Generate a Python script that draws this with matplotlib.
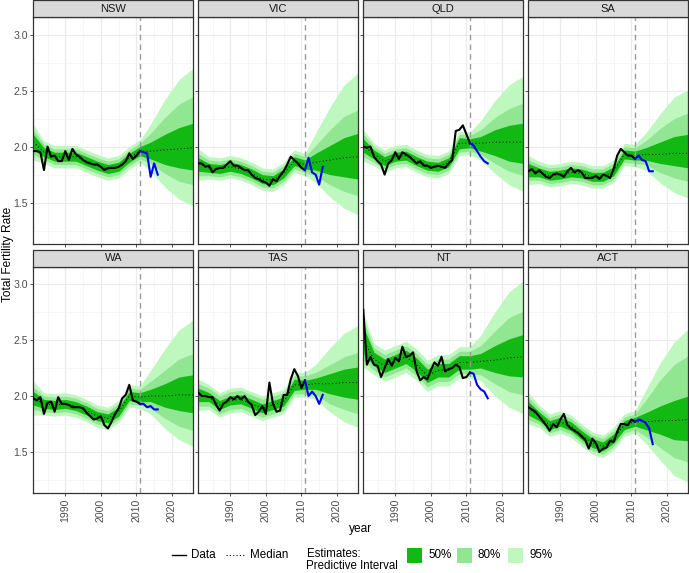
import matplotlib
matplotlib.use("Agg")
import matplotlib.pyplot as plt
from matplotlib.patches import Rectangle
from matplotlib.lines import Line2D

plt.rcParams['font.family'] = ['Liberation Sans', 'DejaVu Sans']

# ---------------- data ----------------
states = ["NSW", "VIC", "QLD", "SA", "WA", "TAS", "NT", "ACT"]
data_years = list(range(1981, 2012))
obs_years = list(range(2011, 2017))
key_years = [1981, 1984, 1987, 1990, 1993, 1996, 1999, 2002, 2005, 2008, 2011, 2014, 2018, 2022, 2026]

# observed TFR (black)
nsw_tfr = [1.96, 1.96, 1.95, 1.79, 2.00, 1.91, 1.92, 1.87, 1.87, 1.96,
           1.88, 1.98, 1.93, 1.91, 1.88, 1.86, 1.85, 1.84, 1.84, 1.82,
           1.79, 1.81, 1.81, 1.81, 1.82, 1.84, 1.87, 1.94, 1.89, 1.92, 1.96]
vic_tfr = [1.85, 1.85, 1.82, 1.83, 1.77, 1.80, 1.81, 1.81, 1.84, 1.87,
           1.83, 1.83, 1.81, 1.79, 1.79, 1.75, 1.72, 1.71, 1.69, 1.68,
           1.65, 1.71, 1.69, 1.74, 1.78, 1.84, 1.91, 1.88, 1.85, 1.81, 1.79]
qld_tfr = [2.00, 1.99, 2.00, 1.91, 1.87, 1.84, 1.75, 1.85, 1.88, 1.95,
           1.89, 1.95, 1.93, 1.91, 1.88, 1.85, 1.87, 1.83, 1.83, 1.81,
           1.82, 1.83, 1.82, 1.81, 1.85, 1.88, 2.14, 2.15, 2.19, 2.11, 2.03]
sa_tfr = [1.78, 1.80, 1.76, 1.79, 1.76, 1.73, 1.72, 1.75, 1.76, 1.75,
          1.73, 1.78, 1.81, 1.77, 1.79, 1.77, 1.72, 1.72, 1.72, 1.74,
          1.71, 1.75, 1.74, 1.72, 1.80, 1.92, 1.98, 1.95, 1.92, 1.92, 1.89]
wa_tfr = [1.98, 1.96, 1.99, 1.84, 1.94, 1.95, 1.86, 1.99, 1.93, 1.93,
          1.92, 1.90, 1.90, 1.90, 1.89, 1.85, 1.82, 1.79, 1.80, 1.82,
          1.74, 1.71, 1.77, 1.84, 1.89, 1.98, 2.01, 2.10, 1.96, 1.95, 1.93]
tas_tfr = [2.03, 2.00, 2.00, 1.99, 1.99, 1.92, 1.87, 1.93, 1.95, 1.99,
           1.97, 2.00, 1.97, 2.00, 1.95, 1.92, 1.83, 1.86, 1.91, 1.84,
           2.12, 1.93, 1.86, 1.87, 2.01, 2.01, 2.15, 2.24, 2.18, 2.07, 2.14]
nt_tfr = [2.77, 2.28, 2.35, 2.28, 2.27, 2.17, 2.25, 2.33, 2.27, 2.34,
          2.31, 2.44, 2.35, 2.36, 2.39, 2.22, 2.14, 2.17, 2.15, 2.23,
          2.30, 2.27, 2.35, 2.22, 2.24, 2.25, 2.28, 2.26, 2.16, 2.17, 2.21]
act_tfr = [1.90, 1.88, 1.86, 1.82, 1.78, 1.74, 1.69, 1.75, 1.72, 1.79,
           1.84, 1.74, 1.71, 1.69, 1.67, 1.64, 1.61, 1.53, 1.62, 1.58,
           1.50, 1.53, 1.54, 1.60, 1.59, 1.68, 1.75, 1.75, 1.74, 1.79, 1.77]

# observed after 2011 (blue)
nsw_new = [1.96, 1.95, 1.94, 1.73, 1.85, 1.75]
vic_new = [1.79, 1.90, 1.77, 1.75, 1.66, 1.82]
qld_new = [2.03, 2.01, 1.96, 1.91, 1.87, 1.85]
sa_new = [1.89, 1.92, 1.88, 1.87, 1.78, 1.78]
wa_new = [1.93, 1.93, 1.90, 1.91, 1.88, 1.88]
tas_new = [2.14, 2.00, 2.04, 2.00, 1.93, 2.01]
nt_new = [2.21, 2.20, 2.10, 2.06, 2.04, 1.98]
act_new = [1.77, 1.79, 1.78, 1.76, 1.71, 1.57]

# model median at key years
nsw_med = [2.04, 1.95, 1.91, 1.91, 1.91, 1.87, 1.83, 1.80, 1.82, 1.90, 1.96, 1.96, 1.97, 1.98, 1.99]
vic_med = [1.84, 1.81, 1.80, 1.82, 1.80, 1.76, 1.71, 1.70, 1.76, 1.87, 1.84, 1.86, 1.88, 1.90, 1.91]
qld_med = [2.01, 1.93, 1.87, 1.91, 1.92, 1.87, 1.83, 1.82, 1.86, 2.03, 2.03, 2.03, 2.04, 2.04, 2.04]
sa_med = [1.79, 1.77, 1.74, 1.75, 1.77, 1.76, 1.73, 1.73, 1.78, 1.93, 1.92, 1.93, 1.93, 1.94, 1.94]
wa_med = [1.98, 1.93, 1.92, 1.93, 1.91, 1.87, 1.82, 1.80, 1.86, 2.00, 1.99, 2.00, 2.00, 2.01, 2.01]
tas_med = [2.01, 1.99, 1.92, 1.96, 1.97, 1.93, 1.89, 1.92, 1.95, 2.10, 2.10, 2.11, 2.11, 2.12, 2.12]
nt_med = [2.50, 2.33, 2.27, 2.31, 2.35, 2.28, 2.18, 2.23, 2.23, 2.30, 2.30, 2.31, 2.32, 2.34, 2.35]
act_med = [1.89, 1.82, 1.74, 1.77, 1.73, 1.65, 1.58, 1.55, 1.62, 1.74, 1.77, 1.77, 1.78, 1.78, 1.79]

# interval half-widths above / below the median at key years: [50%, 80%, 95%]
nsw_up = [[0.07, 0.04, 0.04, 0.04, 0.04, 0.04, 0.04, 0.04, 0.04, 0.04, 0.04, 0.08, 0.14, 0.19, 0.22],
          [0.11, 0.07, 0.07, 0.07, 0.07, 0.07, 0.07, 0.07, 0.07, 0.07, 0.07, 0.16, 0.29, 0.40, 0.46],
          [0.16, 0.10, 0.10, 0.10, 0.10, 0.10, 0.10, 0.10, 0.10, 0.10, 0.10, 0.24, 0.45, 0.62, 0.71]]
nsw_dn = [[0.07, 0.04, 0.04, 0.04, 0.04, 0.04, 0.04, 0.04, 0.04, 0.04, 0.04, 0.07, 0.13, 0.17, 0.20],
          [0.11, 0.07, 0.07, 0.07, 0.07, 0.07, 0.07, 0.07, 0.07, 0.07, 0.07, 0.11, 0.21, 0.29, 0.33],
          [0.16, 0.10, 0.10, 0.10, 0.10, 0.10, 0.10, 0.10, 0.10, 0.10, 0.10, 0.18, 0.33, 0.45, 0.52]]
vic_up = [[0.06, 0.04, 0.04, 0.04, 0.04, 0.04, 0.04, 0.04, 0.04, 0.04, 0.04, 0.08, 0.13, 0.18, 0.21],
          [0.10, 0.07, 0.07, 0.07, 0.07, 0.07, 0.07, 0.07, 0.07, 0.07, 0.07, 0.15, 0.27, 0.37, 0.42],
          [0.14, 0.10, 0.10, 0.10, 0.10, 0.10, 0.10, 0.10, 0.10, 0.10, 0.10, 0.26, 0.47, 0.65, 0.75]]
vic_dn = [[0.06, 0.04, 0.04, 0.04, 0.04, 0.04, 0.04, 0.04, 0.04, 0.04, 0.04, 0.07, 0.13, 0.17, 0.20],
          [0.10, 0.07, 0.07, 0.07, 0.07, 0.07, 0.07, 0.07, 0.07, 0.07, 0.07, 0.12, 0.22, 0.30, 0.35],
          [0.14, 0.10, 0.10, 0.10, 0.10, 0.10, 0.10, 0.10, 0.10, 0.10, 0.10, 0.18, 0.33, 0.45, 0.52]]
qld_up = [[0.06, 0.04, 0.04, 0.04, 0.04, 0.04, 0.04, 0.04, 0.04, 0.05, 0.04, 0.06, 0.11, 0.15, 0.17],
          [0.10, 0.07, 0.07, 0.07, 0.07, 0.07, 0.07, 0.07, 0.07, 0.08, 0.07, 0.12, 0.22, 0.30, 0.35],
          [0.14, 0.10, 0.10, 0.10, 0.10, 0.10, 0.10, 0.10, 0.10, 0.11, 0.10, 0.20, 0.37, 0.51, 0.59]]
qld_dn = [[0.06, 0.04, 0.04, 0.04, 0.04, 0.04, 0.04, 0.04, 0.04, 0.05, 0.04, 0.07, 0.12, 0.17, 0.19],
          [0.10, 0.07, 0.07, 0.07, 0.07, 0.07, 0.07, 0.07, 0.07, 0.08, 0.07, 0.10, 0.19, 0.26, 0.30],
          [0.14, 0.10, 0.10, 0.10, 0.10, 0.10, 0.10, 0.10, 0.10, 0.11, 0.10, 0.15, 0.28, 0.38, 0.44]]
sa_up = [[0.06, 0.04, 0.04, 0.04, 0.04, 0.04, 0.04, 0.04, 0.04, 0.04, 0.04, 0.06, 0.11, 0.15, 0.17],
         [0.09, 0.07, 0.07, 0.07, 0.07, 0.07, 0.07, 0.07, 0.07, 0.07, 0.07, 0.12, 0.23, 0.31, 0.36],
         [0.13, 0.10, 0.10, 0.10, 0.10, 0.10, 0.10, 0.10, 0.10, 0.10, 0.10, 0.19, 0.36, 0.50, 0.57]]
sa_dn = [[0.06, 0.04, 0.04, 0.04, 0.04, 0.04, 0.04, 0.04, 0.04, 0.04, 0.04, 0.05, 0.08, 0.11, 0.13],
         [0.09, 0.07, 0.07, 0.07, 0.07, 0.07, 0.07, 0.07, 0.07, 0.07, 0.07, 0.09, 0.16, 0.22, 0.25],
         [0.13, 0.10, 0.10, 0.10, 0.10, 0.10, 0.10, 0.10, 0.10, 0.10, 0.10, 0.14, 0.25, 0.35, 0.40]]
wa_up = [[0.06, 0.04, 0.04, 0.04, 0.04, 0.04, 0.04, 0.04, 0.04, 0.04, 0.04, 0.06, 0.11, 0.16, 0.18],
         [0.10, 0.07, 0.07, 0.07, 0.07, 0.07, 0.07, 0.07, 0.07, 0.07, 0.07, 0.13, 0.23, 0.32, 0.37],
         [0.15, 0.10, 0.10, 0.10, 0.10, 0.10, 0.10, 0.10, 0.10, 0.10, 0.10, 0.23, 0.42, 0.58, 0.67]]
wa_dn = [[0.06, 0.04, 0.04, 0.04, 0.04, 0.04, 0.04, 0.04, 0.04, 0.04, 0.04, 0.05, 0.10, 0.14, 0.16],
         [0.10, 0.07, 0.07, 0.07, 0.07, 0.07, 0.07, 0.07, 0.07, 0.07, 0.07, 0.11, 0.20, 0.28, 0.32],
         [0.15, 0.10, 0.10, 0.10, 0.10, 0.10, 0.10, 0.10, 0.10, 0.10, 0.10, 0.16, 0.29, 0.40, 0.46]]
tas_up = [[0.06, 0.04, 0.04, 0.04, 0.04, 0.04, 0.04, 0.04, 0.04, 0.05, 0.04, 0.05, 0.09, 0.12, 0.14],
          [0.10, 0.08, 0.08, 0.08, 0.08, 0.08, 0.08, 0.08, 0.08, 0.08, 0.08, 0.10, 0.17, 0.23, 0.27],
          [0.14, 0.11, 0.11, 0.11, 0.11, 0.11, 0.11, 0.11, 0.11, 0.11, 0.11, 0.17, 0.32, 0.44, 0.51]]
tas_dn = [[0.06, 0.04, 0.04, 0.04, 0.04, 0.04, 0.04, 0.04, 0.04, 0.05, 0.04, 0.05, 0.09, 0.13, 0.15],
          [0.10, 0.08, 0.08, 0.08, 0.08, 0.08, 0.08, 0.08, 0.08, 0.08, 0.08, 0.10, 0.18, 0.24, 0.28],
          [0.14, 0.11, 0.11, 0.11, 0.11, 0.11, 0.11, 0.11, 0.11, 0.11, 0.11, 0.14, 0.25, 0.35, 0.40]]
nt_up = [[0.12, 0.06, 0.06, 0.06, 0.06, 0.06, 0.06, 0.06, 0.06, 0.06, 0.06, 0.07, 0.13, 0.17, 0.20],
         [0.18, 0.10, 0.10, 0.10, 0.10, 0.10, 0.10, 0.10, 0.10, 0.10, 0.10, 0.14, 0.26, 0.36, 0.41],
         [0.24, 0.14, 0.14, 0.14, 0.14, 0.14, 0.14, 0.14, 0.14, 0.14, 0.14, 0.23, 0.43, 0.59, 0.68]]
nt_dn = [[0.12, 0.06, 0.06, 0.06, 0.06, 0.06, 0.06, 0.06, 0.06, 0.06, 0.06, 0.06, 0.11, 0.16, 0.18],
         [0.18, 0.10, 0.10, 0.10, 0.10, 0.10, 0.10, 0.10, 0.10, 0.10, 0.10, 0.12, 0.21, 0.30, 0.34],
         [0.24, 0.14, 0.14, 0.14, 0.14, 0.14, 0.14, 0.14, 0.14, 0.14, 0.14, 0.17, 0.32, 0.44, 0.51]]
act_up = [[0.06, 0.04, 0.04, 0.04, 0.04, 0.04, 0.04, 0.04, 0.04, 0.04, 0.04, 0.08, 0.13, 0.18, 0.21],
          [0.10, 0.07, 0.07, 0.07, 0.07, 0.07, 0.07, 0.07, 0.07, 0.07, 0.07, 0.19, 0.36, 0.50, 0.57],
          [0.14, 0.10, 0.10, 0.10, 0.10, 0.10, 0.10, 0.10, 0.10, 0.10, 0.10, 0.28, 0.51, 0.70, 0.81]]
act_dn = [[0.06, 0.04, 0.04, 0.04, 0.04, 0.04, 0.04, 0.04, 0.04, 0.04, 0.04, 0.07, 0.12, 0.17, 0.19],
          [0.10, 0.07, 0.07, 0.07, 0.07, 0.07, 0.07, 0.07, 0.07, 0.07, 0.07, 0.13, 0.24, 0.33, 0.38],
          [0.14, 0.10, 0.10, 0.10, 0.10, 0.10, 0.10, 0.10, 0.10, 0.10, 0.10, 0.19, 0.35, 0.49, 0.56]]

x_ticks = [1990, 2000, 2010, 2020]
y_ticks = [1.5, 2.0, 2.5, 3.0]
y_tick_labels = ["1.5", "2.0", "2.5", "3.0"]
band_labels = ["50%", "80%", "95%"]
forecast_start = 2011

panels = {
    "NSW": (nsw_tfr, nsw_new, nsw_med, nsw_up, nsw_dn),
    "VIC": (vic_tfr, vic_new, vic_med, vic_up, vic_dn),
    "QLD": (qld_tfr, qld_new, qld_med, qld_up, qld_dn),
    "SA": (sa_tfr, sa_new, sa_med, sa_up, sa_dn),
    "WA": (wa_tfr, wa_new, wa_med, wa_up, wa_dn),
    "TAS": (tas_tfr, tas_new, tas_med, tas_up, tas_dn),
    "NT": (nt_tfr, nt_new, nt_med, nt_up, nt_dn),
    "ACT": (act_tfr, act_new, act_med, act_up, act_dn),
}

# ---------------- style ----------------
band_colors = ["#13B913", "#91E691", "#BEF8BE"]   # 50, 80, 95
W, H = 689, 573
fig = plt.figure(figsize=(W / 100, H / 100), dpi=100)

col_left = [33.3, 198.3, 363.3, 528.3]
pw = 160.0
row_top = [17.3, 266.7]
ph = 226.5
strip_h = 16.8
tick_col = "#4D4D4D"
border_col = "#333333"

for i, st in enumerate(states):
    r, c = divmod(i, 4)
    l = col_left[c] / W
    b = 1 - (row_top[r] + ph) / H
    ax = fig.add_axes([l, b, pw / W, ph / H])
    tfr, new, med, up, dn = panels[st]

    ax.set_xlim(1981, 2026)
    ax.set_ylim(1.132, 3.155)
    ax.set_xticks(x_ticks)
    ax.set_xticks([1985, 1995, 2005, 2015, 2025], minor=True)
    ax.set_yticks(y_ticks)
    ax.set_yticks([1.25, 1.75, 2.25, 2.75], minor=True)
    ax.grid(which="major", color="#EBEBEB", lw=0.9)
    ax.grid(which="minor", color="#F3F3F3", lw=0.5)
    ax.set_axisbelow(True)
    ax.tick_params(which="minor", length=0)
    ax.tick_params(which="major", length=2.5, width=0.6, color=border_col,
                   labelsize=7.6, labelcolor=tick_col, pad=1.5)
    if r == 1:
        ax.set_xticklabels([str(t) for t in x_ticks], rotation=90)
    else:
        ax.tick_params(axis="x", labelbottom=False)
    if c == 0:
        ax.set_yticklabels(y_tick_labels)
    else:
        ax.tick_params(axis="y", labelleft=False)
    for sp in ax.spines.values():
        sp.set_color(border_col)
        sp.set_linewidth(0.9)

    for k in (2, 1, 0):
        hi = [m + u for m, u in zip(med, up[k])]
        lo = [m - d for m, d in zip(med, dn[k])]
        ax.fill_between(key_years, lo, hi, color=band_colors[k], lw=0, zorder=1)
    ax.plot(key_years, med, color="black", lw=0.7, ls=(0, (1, 2.5)), zorder=2)
    ax.axvline(forecast_start, color="#9A9A9A", lw=1.0, ls=(0, (4, 3)), zorder=3)
    ax.plot(data_years, tfr, color="black", lw=1.5, zorder=4, solid_joinstyle="round")
    ax.plot(obs_years, new, color="#0000FF", lw=1.5, zorder=5, solid_joinstyle="round")

    # facet strip
    sh = strip_h / ph
    ax.add_patch(Rectangle((0, 1), 1, sh, transform=ax.transAxes, clip_on=False,
                           facecolor="#D9D9D9", edgecolor=border_col, lw=0.9, zorder=10))
    ax.text(0.5, 1 + sh / 2, st, transform=ax.transAxes, ha="center", va="center",
            fontsize=8.0, color="#1A1A1A", zorder=11)

# axis titles
fig.text(8.5 / W, 1 - 254 / H, "Total Fertility Rate", rotation=90, ha="center",
         va="center", fontsize=8.6)
fig.text(361 / W, 1 - 529 / H, "year", ha="center", va="center", fontsize=8.6)

# legend
ly = 1 - 555 / H
fig.add_artist(Line2D([172 / W, 186 / W], [ly, ly], color="black", lw=1.0))
fig.text(191 / W, ly, "Data", ha="left", va="center", fontsize=8.4)
fig.add_artist(Line2D([226 / W, 245 / W], [ly, ly], color="black", lw=0.8, ls=(0, (1, 2))))
fig.text(250 / W, ly, "Median", ha="left", va="center", fontsize=8.4)
fig.text(306.5 / W, 1 - 548 / H, "Estimates:\nPredictive Interval", ha="left", va="top",
         fontsize=8.3, linespacing=0.95)
patch_x = [407, 457, 508]
for k in range(3):
    fig.add_artist(Rectangle((patch_x[k] / W, 1 - 563 / H), 15 / W, 15 / H,
                             facecolor=band_colors[k], edgecolor="none",
                             transform=fig.transFigure))
    fig.text((patch_x[k] + 21) / W, ly, band_labels[k], ha="left", va="center", fontsize=8.4)

fig.savefig("out.png", dpi=100)
